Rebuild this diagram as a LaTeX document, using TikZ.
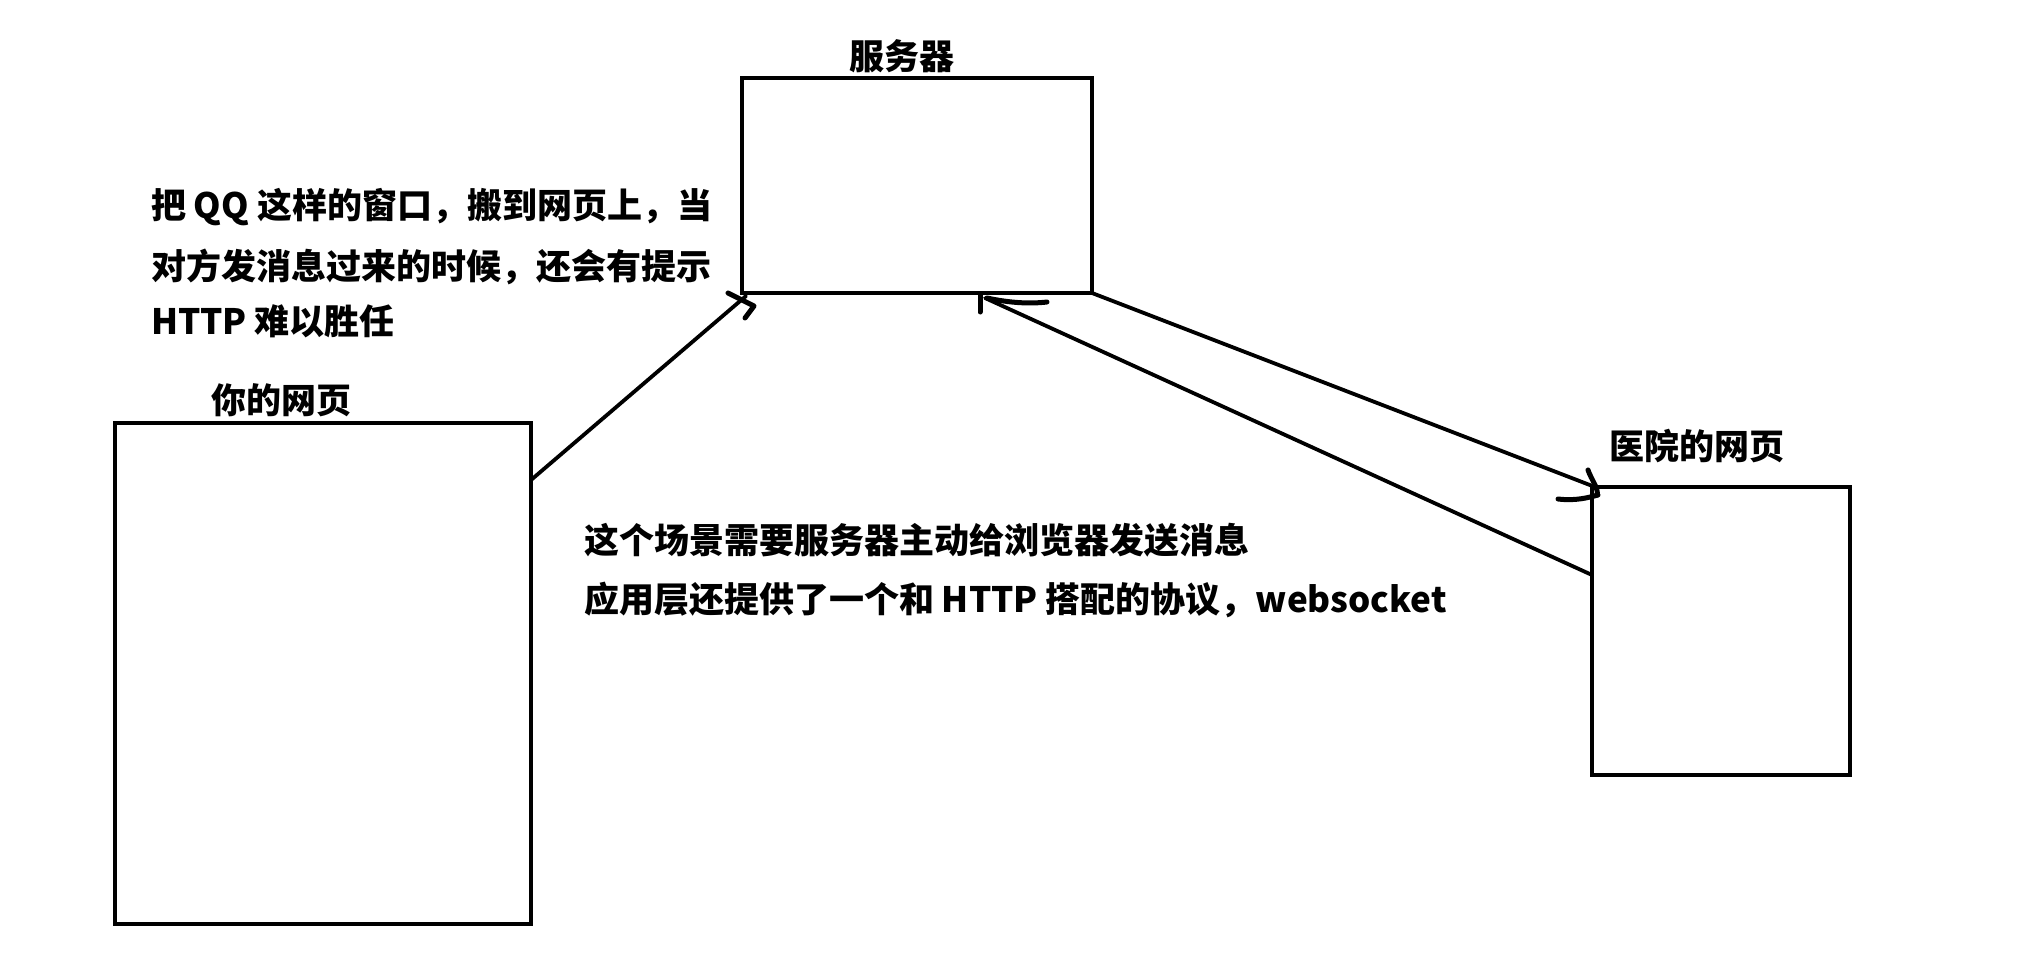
\documentclass[tikz,border=0pt]{standalone}
\usepackage{fontspec}
\newfontfamily\cjk{Noto Sans CJK SC}
\usetikzlibrary{calc}
\begin{document}
\begin{tikzpicture}[x=1pt,y=-1pt,
  box/.style={draw=black, line width=4.5pt, fill=none, inner sep=0pt, outer sep=0pt},
  lbl/.style={inner sep=0pt, outer sep=0pt, font=\cjk\bfseries\fontsize{35}{42}\selectfont, text=black},
  conn/.style={draw=black, line width=3.8pt, line cap=round, line join=round},
  tipstroke/.style={draw=black, line width=5pt, line cap=round, line join=round}]
\useasboundingbox (0,0) rectangle (2035,971);
\fill[white] (0,0) rectangle (2035,971);
% boxes
\node[box, minimum width=350pt, minimum height=215pt] (server) at (917,185.5) {};
\node[box, minimum width=416pt, minimum height=501pt] (you) at (323,673.5) {};
\node[box, minimum width=258pt, minimum height=288pt] (hosp) at (1721,631) {};
% labels
\node[lbl, anchor=base] (serverlbl) at (902,69.5) {服务器};
\node[lbl, anchor=base] (youlbl) at (281,413.5) {你的网页};
\node[lbl, anchor=base] (hosplbl) at (1697,459.5) {医院的网页};
% left text
\node[lbl, anchor=base west] (ta) at (151,218.5) {把 QQ 这样的窗口，搬到网页上，当};
\node[lbl, anchor=base west] (tb) at (151,279.5) {对方发消息过来的时候，还会有提示};
\node[lbl, anchor=base west] (tc) at (151,334.5) {HTTP 难以胜任};
% middle text
\node[lbl, anchor=base west] (td) at (584,553.5) {这个场景需要服务器主动给浏览器发送消息};
\node[lbl, anchor=base west] (te) at (584,612.5) {应用层还提供了一个和 HTTP 搭配的协议，websocket};
% connector endpoints
\coordinate (c1s) at ($(you.north east)+(0,57)$);
\coordinate (c1e) at ($(server.south west)+(4,3)$);
\coordinate (c2s) at (server.south east);
\coordinate (c2e) at ($(hosp.north west)+(3,0)$);
\coordinate (c3s) at ($(hosp.north west)+(0,88)$);
\coordinate (c3e) at ($(server.south west)+(243,5)$);
% connectors
\draw[conn] (c1s) -- (c1e);
\draw[conn] (c2s) -- (c2e);
\draw[conn] (c3s) -- (c3e);
% hand-drawn arrow tips
\draw[tipstroke] ($(c1e)+(-18,-3)$) -- ($(c1e)+(8,10)$) -- ($(c1e)+(-1,22)$);
\draw[tipstroke] ($(c3e)+(-5,-4)$) -- ($(c3e)+(-5,14)$);
\draw[tipstroke] ($(c3e)+(2,0)$) .. controls ($(c3e)+(25,5)$) and ($(c3e)+(45,6)$) .. ($(c3e)+(62,4)$);
\draw[tipstroke] ($(c2e)+(-7,-17)$) .. controls ($(c2e)+(-4,-8)$) and ($(c2e)+(4,2)$) .. ($(c2e)+(2,8)$);
\draw[tipstroke] ($(c2e)+(-37,12)$) .. controls ($(c2e)+(-20,14)$) and ($(c2e)+(-8,11)$) .. ($(c2e)+(3,8)$);
\end{tikzpicture}
\end{document}
